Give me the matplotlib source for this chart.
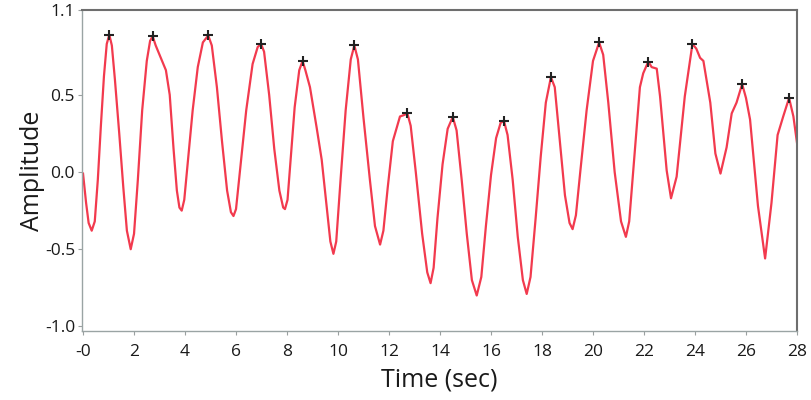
import matplotlib
matplotlib.use("Agg")
import matplotlib.pyplot as plt

# signal samples (time in s, amplitude)
time_s = [
    0.00, 0.12, 0.22, 0.34, 0.46, 0.58, 0.70, 0.82, 0.93, 1.03,
    1.13, 1.25, 1.42, 1.58, 1.72, 1.87, 2.00, 2.15, 2.32, 2.50,
    2.63, 2.73, 2.85, 3.05, 3.25, 3.40, 3.55, 3.68, 3.78, 3.87,
    3.97, 4.10, 4.30, 4.50, 4.70, 4.91, 5.05, 5.25, 5.45, 5.65,
    5.80, 5.90, 6.00, 6.15, 6.40, 6.65, 6.85, 6.98, 7.10, 7.30,
    7.50, 7.70, 7.85, 7.92, 8.02, 8.15, 8.30, 8.48, 8.61, 8.72,
    8.90, 9.16, 9.36, 9.55, 9.70, 9.82, 9.93, 10.10, 10.30, 10.50,
    10.64, 10.78, 11.00, 11.25, 11.45, 11.65, 11.78, 11.95, 12.15, 12.43,
    12.60, 12.72, 12.85, 13.05, 13.30, 13.50, 13.63, 13.75, 13.90, 14.10,
    14.30, 14.50, 14.65, 14.85, 15.05, 15.25, 15.44, 15.62, 15.80, 16.00,
    16.20, 16.38, 16.51, 16.65, 16.85, 17.05, 17.25, 17.40, 17.55, 17.75,
    17.95, 18.15, 18.35, 18.50, 18.70, 18.90, 19.08, 19.20, 19.33, 19.50,
    19.75, 20.00, 20.24, 20.40, 20.60, 20.85, 21.10, 21.29, 21.42, 21.60,
    21.84, 21.97, 22.17, 22.30, 22.50, 22.63, 22.89, 23.06, 23.28, 23.60,
    23.90, 24.05, 24.20, 24.33, 24.60, 24.80, 25.00, 25.24, 25.44, 25.63,
    25.85, 26.00, 26.16, 26.47, 26.75, 27.00, 27.24, 27.46, 27.69, 27.86,
    28.00,
]
amplitude = [
    -0.01, -0.20, -0.33, -0.38, -0.32, -0.05, 0.30, 0.62, 0.83, 0.89,
    0.82, 0.60, 0.25, -0.10, -0.38, -0.50, -0.40, -0.05, 0.40, 0.72,
    0.85, 0.88, 0.82, 0.74, 0.66, 0.50, 0.15, -0.12, -0.23, -0.25,
    -0.18, 0.05, 0.40, 0.68, 0.84, 0.885, 0.82, 0.55, 0.20, -0.12,
    -0.26, -0.285, -0.24, 0.00, 0.40, 0.70, 0.81, 0.83, 0.78, 0.50,
    0.15, -0.12, -0.23, -0.24, -0.18, 0.10, 0.42, 0.66, 0.72, 0.66,
    0.55, 0.29, 0.08, -0.22, -0.45, -0.53, -0.45, -0.05, 0.40, 0.73,
    0.82, 0.73, 0.35, -0.05, -0.35, -0.47, -0.38, -0.10, 0.20, 0.36,
    0.37, 0.38, 0.30, 0.00, -0.40, -0.65, -0.72, -0.62, -0.30, 0.05,
    0.28, 0.357, 0.27, -0.05, -0.40, -0.70, -0.80, -0.68, -0.35, -0.02,
    0.22, 0.32, 0.33, 0.24, -0.05, -0.42, -0.70, -0.79, -0.68, -0.30,
    0.10, 0.45, 0.615, 0.55, 0.20, -0.15, -0.33, -0.37, -0.28, 0.00,
    0.40, 0.72, 0.84, 0.76, 0.45, 0.00, -0.32, -0.42, -0.32, 0.05,
    0.55, 0.64, 0.716, 0.68, 0.67, 0.49, 0.01, -0.17, -0.03, 0.49,
    0.83, 0.80, 0.74, 0.72, 0.45, 0.12, -0.01, 0.16, 0.38, 0.45,
    0.57, 0.48, 0.34, -0.22, -0.56, -0.20, 0.24, 0.36, 0.48, 0.36,
    0.19,
]

# detected peaks
peak_t = [1.03, 2.73, 4.91, 6.98, 8.61, 10.64, 12.72, 14.50,
          16.51, 18.35, 20.24, 22.17, 23.90, 25.85, 27.69]
peak_a = [0.89, 0.88, 0.885, 0.83, 0.72, 0.82, 0.38, 0.357,
          0.33, 0.615, 0.84, 0.716, 0.83, 0.57, 0.48]

x_ticks = [0, 2, 4, 6, 8, 10, 12, 14, 16, 18, 20, 22, 24, 26, 28]
x_tick_labels = ["-0", "2", "4", "6", "8", "10", "12", "14", "16",
                 "18", "20", "22", "24", "26", "28"]
y_ticks = [-1.0, -0.5, 0.0, 0.5, 1.05]
y_tick_labels = ["-1.0", "-0.5", "0.0", "0.5", "1.1"]

plt.rcParams["font.family"] = ["Open Sans", "DejaVu Sans"]

fig = plt.figure(figsize=(8.12, 4.0), dpi=100)
ax = fig.add_axes([0.101, 0.1725, 0.8805, 0.8025])

ax.plot(time_s, amplitude, color="#f23a4e", lw=1.6,
        solid_joinstyle="round")
ax.plot(peak_t, peak_a, ls="none", marker="+", ms=6.5, mew=1.5,
        color="#222222")

ax.set_xlim(-0.04, 28.0)
ax.set_ylim(-1.03, 1.05)
ax.set_xticks(x_ticks)
ax.set_xticklabels(x_tick_labels)
ax.set_yticks(y_ticks)
ax.set_yticklabels(y_tick_labels)

ax.tick_params(axis="both", direction="out", length=3, width=0.8,
               color="#9aa0a0", labelsize=12.5, labelcolor="#1a1a1a")
ax.tick_params(axis="x", pad=6)
ax.tick_params(axis="y", pad=2)

for side in ["top", "right"]:
    ax.spines[side].set_color("#6e6e6e")
    ax.spines[side].set_linewidth(1.5)
for side in ["left", "bottom"]:
    ax.spines[side].set_color("#9aa4a4")
    ax.spines[side].set_linewidth(1.0)

ax.set_xlabel("Time (sec)", fontsize=18, color="#1a1a1a", labelpad=6)
ax.set_ylabel("Amplitude", fontsize=18, color="#1a1a1a", labelpad=0)

fig.savefig("out.png", dpi=100)
